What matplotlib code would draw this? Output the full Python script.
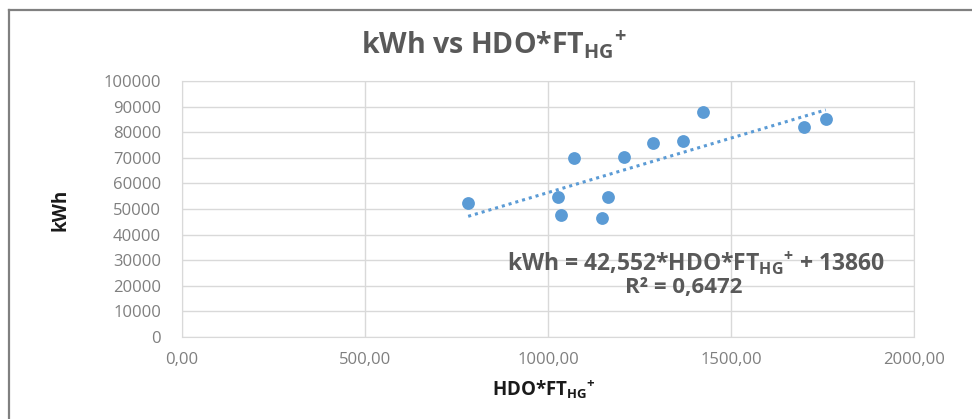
import numpy as np
import matplotlib.pyplot as plt
from matplotlib.lines import Line2D

plt.rcParams["font.family"] = ["Open Sans", "DejaVu Sans"]
plt.rcParams["mathtext.fontset"] = "custom"
plt.rcParams["mathtext.rm"] = "Open Sans"
plt.rcParams["mathtext.bf"] = "Open Sans:bold"

# data
hdo_ft = [782, 1072, 1028, 1035, 1163, 1147, 1208, 1288, 1370, 1424, 1699, 1759]
kwh = [52200, 69800, 54600, 47700, 54800, 46600, 70400, 75700, 76700, 87800, 81900, 85000]

slope = 42.552
intercept = 13860
r2 = 0.6472

x_ticks = [0, 500, 1000, 1500, 2000]
y_ticks = list(range(0, 100001, 10000))

blue = "#5B9BD5"
grid = "#D9D9D9"
txt = "#595959"

fig = plt.figure(figsize=(9.72, 4.19), dpi=100)
ax = fig.add_axes([0.1872, 0.1957, 0.7531, 0.611])

ax.scatter(hdo_ft, kwh, s=85, color=blue, zorder=3, linewidths=0)

xs = np.array([min(hdo_ft), max(hdo_ft)])
ax.plot(xs, slope * xs + intercept, ls=(0, (1, 1.3)), lw=2.2, color=blue, zorder=2)

ax.set_xlim(0, 2000)
ax.set_ylim(0, 100000)
ax.set_xticks(x_ticks)
ax.set_yticks(y_ticks)
ax.set_xticklabels([f"{v:.2f}".replace(".", ",") for v in x_ticks])
ax.set_yticklabels([str(v) for v in y_ticks])
ax.tick_params(length=0, labelsize=12, labelcolor="#7F7F7F")
ax.tick_params(axis="y", pad=15)
ax.tick_params(axis="x", pad=11)
ax.grid(True, color=grid, lw=1)
ax.set_axisbelow(True)
for s in ax.spines.values():
    s.set_color(grid)

sub = r"$_{\mathbf{HG}}$$^{\mathbf{+}}$"
fig.text(0.508, 0.893, "kWh vs HDO*FT" + sub, ha="center", va="center",
         fontsize=20.5, fontweight="bold", color=txt)
fig.text(0.062, 0.50, "kWh", rotation=90, ha="center", va="center",
         fontsize=13.5, fontweight="bold", color="#1a1a1a")
fig.text(0.560, 0.072, "HDO*FT" + sub, ha="center", va="center",
         fontsize=13.5, fontweight="bold", color="#1a1a1a")

eq = "kWh = " + f"{slope:.3f}".replace(".", ",") + "*HDO*FT" + sub + f" + {intercept}"
fig.text(0.716, 0.372, eq, ha="center", va="center",
         fontsize=16.5, fontweight="bold", color=txt)
fig.text(0.703, 0.315, "R² = " + f"{r2:.4f}".replace(".", ","), ha="center", va="center",
         fontsize=16, fontweight="bold", color=txt)

# chart frame: only top and left edges visible
fig.add_artist(Line2D([0.0093, 1.0], [0.976, 0.976], transform=fig.transFigure,
                      color="#808080", lw=1.6))
fig.add_artist(Line2D([0.0093, 0.0093], [0.0, 0.976], transform=fig.transFigure,
                      color="#808080", lw=1.6))

fig.savefig("out.png", dpi=100)
plt.close()
